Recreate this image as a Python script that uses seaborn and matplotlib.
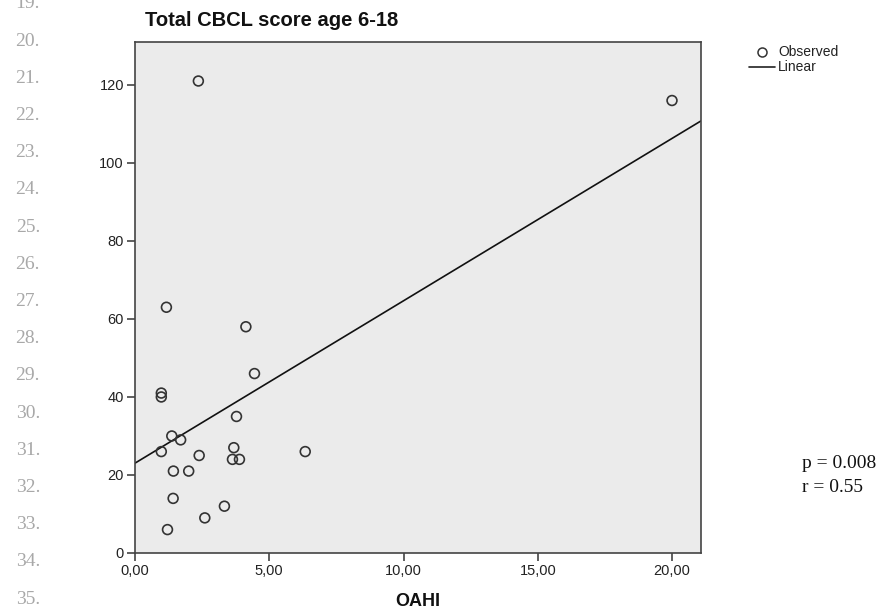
import matplotlib
matplotlib.use("Agg")
import matplotlib.pyplot as plt
import seaborn as sns
import pandas as pd
from matplotlib.lines import Line2D
from matplotlib.ticker import FuncFormatter

# ---- data ----
oahi = [1.17, 4.13, 4.45, 0.98, 0.98, 3.78, 1.37, 1.70, 0.98, 3.68, 6.34,
        2.39, 3.63, 3.89, 1.43, 2.00, 1.42, 3.33, 2.60, 1.21, 2.36, 20.0]
cbcl = [63, 58, 46, 41, 40, 35, 30, 29, 26, 27, 26,
        25, 24, 24, 21, 21, 14, 12, 9, 6, 121, 116]
x_ticks = [0, 5, 10, 15, 20]
y_ticks = [0, 20, 40, 60, 80, 100, 120]
line_numbers = list(range(19, 36))
title = "Total CBCL score age 6-18"
x_label = "OAHI"
stats_text = ["p = 0.008", "r = 0.55"]
legend_labels = ["Observed", "Linear"]

df = pd.DataFrame({"OAHI": oahi, "CBCL": cbcl})

sns.set_theme(style="white")
plt.rcParams["font.family"] = ["Liberation Sans", "DejaVu Sans"]

W, H = 883, 613
fig = plt.figure(figsize=(W / 100, H / 100), dpi=100)
ax = fig.add_axes([135 / W, 1 - 553 / H, 566 / W, 511 / H])
ax.set_facecolor("#ebebeb")

ax.set_xlim(0, 21.08)
ax.set_ylim(0, 131)

sns.scatterplot(data=df, x="OAHI", y="CBCL", ax=ax, marker="o",
                s=50, facecolor="none", edgecolor="#333333", linewidth=1.2,
                zorder=3)
sns.regplot(data=df, x="OAHI", y="CBCL", ax=ax, scatter=False, ci=None,
            truncate=False, line_kws=dict(color="#111111", lw=1.2))
ax.set_xlim(0, 21.08)
ax.set_ylim(0, 131)

for s in ax.spines.values():
    s.set_color("#444444")
    s.set_linewidth(1.2)
    s.set_visible(True)

ax.set_xticks(x_ticks)
ax.set_yticks(y_ticks)
ax.xaxis.set_major_formatter(FuncFormatter(lambda v, p: f"{v:.2f}".replace(".", ",")))
ax.tick_params(axis="both", direction="out", length=6, width=1.2, color="#444444",
               labelsize=10.5, labelcolor="#222222", bottom=True, left=True, pad=2)
ax.set_xlabel(x_label, fontsize=13, fontweight="bold", labelpad=11, color="#111111")
ax.set_ylabel("")

fig.text(145 / W, 1 - 20 / H, title, fontsize=14.5, fontweight="bold",
         ha="left", va="center", color="#111111")

# legend
fig.add_artist(Line2D([762 / W], [1 - 52 / H], marker="o", markersize=6.5,
                      markerfacecolor="none", markeredgecolor="#333333",
                      markeredgewidth=1.1, linestyle="none",
                      transform=fig.transFigure))
fig.add_artist(Line2D([749 / W, 775 / W], [1 - 67 / H, 1 - 67 / H],
                      color="#222222", lw=1.2, transform=fig.transFigure))
fig.text(778 / W, 1 - 52 / H, legend_labels[0], fontsize=10, va="center",
         ha="left", color="#222222")
fig.text(778 / W, 1 - 67 / H, legend_labels[1], fontsize=10, va="center",
         ha="left", color="#222222")

# statistics text
for i, t in enumerate(stats_text):
    fig.text(802 / W, 1 - (463 + 25 * i) / H, t, fontsize=14,
             family=["Liberation Serif", "DejaVu Serif"], ha="left",
             va="center", color="#111111")

# left margin line numbers
for i, n in enumerate(line_numbers):
    fig.text(40 / W, 1 - (4 + 37.2 * i) / H, f"{n}.", fontsize=14,
             family=["Liberation Serif", "DejaVu Serif"], ha="right",
             va="center", color="#a8a8a8")

fig.savefig("out.png", dpi=100)
